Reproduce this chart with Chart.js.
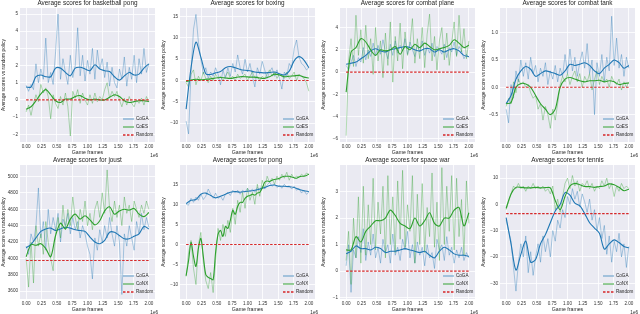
<!DOCTYPE html>
<html>
<head>
<meta charset="utf-8">
<script src="https://cdn.jsdelivr.net/npm/chart.js@4.4.1/dist/chart.umd.min.js"></script>
<style>
  body { margin: 0; background: #fff; width: 640px; height: 314px; overflow: hidden; position: relative; }
  .cell { position: absolute; width: 160px; height: 157px; }
</style>
</head>
<body>
<script>
// game frames axis (x1e6)
const xTicks = [0, 0.25, 0.5, 0.75, 1.0, 1.25, 1.5, 1.75, 2.0];

// basketball pong
const bpBlueRaw = [0.85,0.5,0.9,0.6,2.1,1.0,1.8,1.2,3.6,1.0,1.6,0.9,2.8,5.0,1.2,2.4,1.6,0.9,2.6,1.3,2.0,4.2,1.4,2.6,1.1,2.3,1.5,3.0,1.2,2.9,1.8,2.4,1.3,2.2,0.8,1.9,1.0,0.7,1.8,1.2,2.5,0.8,1.9,1.2,2.6,1.0,2.4,1.5,3.0,1.6,2.1];
const bpBlueSmooth = [0.75,0.75,1.35,1.45,1.35,1.35,1.85,1.85,1.6,1.4,1.85,1.9,1.8,1.7,2.05,1.8,1.7,1.65,1.35,1.15,1.4,1.6,1.45,1.5,1.85,2.1];
const bpGreenRaw = [-0.7,-0.3,-0.9,-0.2,0.3,-0.1,0.9,0.4,0.7,0.2,-1.1,0.3,-0.2,-0.5,0.2,-0.3,0.4,-0.4,-2.1,0.5,0.1,0.6,-0.2,0.4,0.0,-0.3,0.3,-0.2,0.4,-0.1,0.2,0.0,0.6,1.0,0.1,0.5,0.2,0.5,0.0,-0.4,0.1,-0.3,0.2,-0.2,-0.4,0.0,-0.2,0.1,-0.3,0.2,-0.1];
const bpGreenSmooth = [-0.55,-0.4,-0.05,0.35,0.6,0.3,-0.05,-0.15,0.05,0.05,0.2,0.25,0.1,0.0,0.05,0.0,0.0,0.15,0.3,0.2,-0.05,-0.15,-0.1,-0.05,-0.05,-0.1];

// boxing
const bxBlueRaw = [-9.5,-12.5,2,12,15.5,9,5,1.5,3,0.5,2,1,3,1.5,-1,2.5,0.5,3,1,4,2,6,3,1.5,5,2,4,1,-1.5,3,1.5,4.5,2.5,0.5,2,3,1,2.5,0.5,-2,2,1,4,3,7.5,9.5,5.5,4,3.5,2.5,3];
const bxBlueSmooth = [-6.7,3.0,9.0,5.5,1.6,1.4,1.8,2.1,3.0,3.3,3.0,2.6,2.4,2.3,2.0,1.9,1.8,1.9,2.0,1.6,1.3,2.2,4.6,5.6,4.8,3.0];
const bxGreenRaw = [-0.5,-1.5,1.5,2.5,-1,1,0,2,0.5,-0.5,1,0,1.5,0.5,1,0,1,2,0.5,1,0,1.5,0.5,1,1.5,0,1,2,0.5,1,0,1,0.5,1.5,2.5,1,2,0.5,1.5,1,0.5,2,0.5,1,2,0,1.5,1,0.5,-0.5,-2.5];
const bxGreenSmooth = [-0.3,0.1,0.3,0.2,0.3,0.4,0.6,0.7,0.6,0.5,0.7,0.9,0.9,0.8,0.8,0.6,0.5,0.9,1.5,1.3,0.9,1.0,1.1,1.2,0.8,0.6];

// combat plane
const cpBlueRaw = [0.6,0.2,0.9,1.5,0.5,1.3,0.9,2.2,1.1,2.0,1.4,2.6,1.5,2.4,1.6,2.9,1.9,1.2,2.5,1.5,2.8,1.7,2.4,1.9,3.0,1.6,2.7,2.0,1.4,2.4,1.8,2.8,1.5,2.2,1.7,2.6,1.4,2.3,2.0,1.6,2.5,1.3,2.2,1.8,2.7,1.5,2.3,1.9,1.2,1.6,1.3];
const cpBlueSmooth = [0.7,0.8,0.9,1.2,1.5,1.9,2.1,1.9,1.8,2.0,2.1,2.2,2.3,2.2,2.0,1.9,2.1,2.1,1.8,2.0,1.8,2.0,2.1,1.9,1.5,1.4];
const cpGreenRaw = [-5.7,1.0,3.0,0.5,5.1,1.5,3.8,0.8,4.2,1.2,3.0,-0.2,4.0,1.0,2.8,-0.5,3.5,0.6,4.5,-0.9,3.2,1.0,4.4,0.3,3.6,1.5,2.5,4.8,0.8,3.0,1.2,4.0,0.4,3.4,5.2,1.0,3.2,0.2,2.8,4.0,1.1,3.5,0.6,2.6,4.5,1.4,5.1,1.8,3.9,1.2,2.8];
const cpGreenSmooth = [-1.8,1.8,2.2,3.0,2.7,2.0,1.5,2.0,1.9,2.0,2.3,1.6,2.3,2.0,2.5,2.2,2.6,2.3,2.0,2.1,2.2,2.4,2.9,2.6,2.2,2.4];

// combat tank
const ctBlueRaw = [-0.4,-0.65,0.05,-0.2,0.3,0.1,0.5,0.2,0.45,0.15,0.55,0.25,0.4,0.1,0.35,0.2,0.45,0.05,0.3,0.15,0.4,0.1,0.35,0.2,0.6,0.25,0.7,0.3,0.55,0.2,0.45,0.65,0.35,0.8,0.25,0.5,-0.5,0.45,0.2,0.6,0.1,0.55,0.3,1.3,0.4,0.9,0.35,0.6,0.2,0.55,0.35];
const ctBlueSmooth = [-0.3,-0.15,0.15,0.3,0.38,0.33,0.2,0.25,0.3,0.28,0.25,0.22,0.3,0.42,0.4,0.42,0.45,0.4,0.3,0.25,0.35,0.42,0.5,0.45,0.35,0.4];
const ctGreenRaw = [-0.35,-0.2,-0.3,0.1,-0.1,0.15,0.05,0.1,0.0,0.05,-0.1,-0.2,-0.15,-0.4,-0.3,-0.6,-0.35,-0.5,-0.75,-0.4,-0.6,-0.3,0.05,0.2,0.1,0.25,0.05,0.2,0.3,0.1,0.25,0.0,0.2,0.1,0.25,-0.05,0.15,0.3,0.05,0.2,0.1,0.15,0.0,0.2,0.1,0.05,0.15,-0.05,0.1,0.0,0.1];
const ctGreenSmooth = [-0.3,-0.28,0.0,0.07,0.06,0.0,-0.15,-0.3,-0.4,-0.5,-0.4,0.0,0.15,0.18,0.15,0.12,0.1,0.12,0.12,0.13,0.1,0.12,0.1,0.05,0.07,0.08];

// joust
const jsBlueRaw = [4150,4050,4300,4200,4400,4860,4250,4450,4100,4600,4300,4500,4350,4550,4200,4480,4400,4550,4300,4500,4350,4450,4250,4400,4300,4150,4050,3750,4250,4100,4350,4200,4400,4250,4500,4300,4150,4400,4200,3560,4300,4150,4400,4250,4100,4450,4300,4550,4350,4500,4380];
const jsBlueSmooth = [4130,4170,4250,4330,4360,4370,4340,4360,4380,4370,4350,4340,4330,4260,4200,4180,4220,4320,4320,4280,4240,4240,4270,4300,4390,4360];
const jsGreenRaw = [4000,3650,4200,3700,4400,4150,4300,4050,4450,4200,4000,3850,4300,4500,4250,4650,4350,4600,4400,4750,4500,4350,4600,4450,4700,4400,4550,4350,4600,4700,4500,4800,4550,5080,4600,4450,4700,4500,4650,4400,4750,4550,4650,4450,4700,4600,4500,4650,4550,4700,4600];
const jsGreenSmooth = [4020,4170,4160,4180,4120,4020,4280,4430,4360,4480,4540,4480,4520,4470,4410,4460,4580,4630,4540,4580,4600,4590,4610,4540,4510,4560];

// pong
const pgBlueRaw = [10,9.8,11.5,10.5,11.8,11,12.5,11.2,12,13.8,12.5,11.5,12.8,11.5,12,11,12.5,13,12.2,13.5,12.8,13.5,12.5,13.5,13,14,13.2,13.8,13,14.2,13.5,14.5,13.8,14.8,15.5,14.5,15,14.2,14.8,14,15,14.3,14.6,13.8,14.5,13.5,14,12.8,13.5,12.5,13];
const pgBlueSmooth = [10.2,11,11.2,12.5,12.8,12.2,11.6,12,12.5,13,13.2,13.0,13.2,13.3,13.5,13.8,14.2,14.7,14.8,14.5,14.5,14.4,14.2,13.7,13.4,13.2];
const pgGreenRaw = [-8,-2,1,-6,-10,0,3,-4,-9,-11,-7,-12,-4,4,1,5,2,6,3,9,5,11,8,13,9,14,11,13,10,15,12,16,14,17,15.5,16.5,15,17,16,17.5,16.5,18,16,17.5,16.5,17,16.8,17.5,17,17.8,17.5];
const pgGreenSmooth = [-7.8,-4,0.5,-3,-5.5,-1,1.5,-3,-7.5,-8.2,-8.5,-8.8,-2,2.5,3.5,2,4.5,4,6,8.5,7.5,9.5,10.5,10.5,11.5,12,12.2,12.5,12.3,12.8,13,14,15.5,15.8,15.7,16,16.2,16.3,16.5,16.8,17,17,17,16.8,16.6,16.5,16.8,17,17,17.2,17.5];

// space war
const swBlueRaw = [0.2,1.0,-0.8,0.8,0.5,1.3,0.7,1.6,0.4,1.1,0.6,1.4,0.5,0.9,0.3,1.2,0.7,1.0,0.3,1.4,0.6,0.9,0.4,1.2,0.8,1.5,0.5,1.0,0.3,1.1,0.6,0.9,0.2,1.0,0.5,0.7,0.1,1.2,0.8,1.0,0.4,1.3,0.6,0.9,0.3,0.8,0.5,0.9,0.4,0.7,0.5];
const swBlueSmooth = [0.65,0.75,0.95,0.85,0.85,0.8,0.9,0.85,0.7,0.75,0.75,0.8,0.85,0.8,0.75,0.7,0.75,0.6,0.5,0.75,0.9,0.8,0.65,0.6,0.6,0.55];
const swGreenRaw = [0.4,1.5,-0.5,2.0,0.5,2.8,0.3,3.2,0.6,2.5,1.0,3.5,0.8,2.6,1.4,3.2,0.5,3.6,1.0,2.8,0.7,3.4,1.2,3.8,0.9,2.5,1.5,3.6,0.3,2.9,1.0,3.3,0.7,2.4,1.3,3.7,0.9,2.6,0.4,3.9,1.0,3.2,1.5,3.6,0.8,3.5,1.3,2.7,0.6,3.4,1.8];
const swGreenSmooth = [0.8,0.8,1.3,1.1,1.5,1.7,1.9,1.9,2.0,2.3,2.1,1.8,1.7,1.6,2.0,1.7,1.9,2.2,1.8,1.7,2.0,2.0,2.3,2.4,1.7,2.2];

// tennis
const tnBlueRaw = [-6,-10,-14,-24,-33,-22,-15,-20,-12,-26,-18,-27,-20,-15,-22,-12,-18,-13,-20,-10,-14,-6,-9,-2,-5,3,0,6,2,5,-1,4,1,-3,2,-6,-2,-10,-5,-13,-8,-19,-12,-22,-14,-18,-11,-20,-15,-24,-16];
const tnBlueSmooth = [-5,-15,-25,-19,-14,-22,-21,-15,-11.5,-7,-2.5,0,4.5,3.5,0.5,-0.5,-3.5,-7,-9,-11,-17,-15,-13.5,-14.5,-16,-16.5];
const tnGreenRaw = [-2,1,4,7,6,8,6,7,5,7,6,8,6,7,6,7,5,6,4,7,-2,2,-3,3,8,10,6,11,7,9,5,8,7,9,6,8,5,7,6,9,7,10,6,8,3,7,5,8,6,7,6];
const tnGreenSmooth = [-1.5,4,6.5,6.5,6.3,6.3,6.5,6.3,6.4,6.3,1.5,-2,3,7,8,7.5,6.8,6.8,6.5,6.8,7,7.8,7.5,6.5,5.2,5.8];

const titles = ['Average scores for basketball pong', 'Average scores for boxing', 'Average scores for combat plane', 'Average scores for combat tank',
                'Average scores for joust', 'Average scores for pong', 'Average scores for space war', 'Average scores for tennis'];
const yTitles = ['Average scores vs random policy', 'Average score vs random policy', 'Average score vs random policy', 'Average score vs random policy',
                 'Average score vs random policy', 'Average score vs random policy', 'Average score vs random policy', 'Average score vs random policy'];
const secondNames = ['CoES', 'CoES', 'CoES', 'CoES', 'CoNX', 'CoNX', 'CoNX', 'CoNX'];
const randomLevels = [0, 0, 0, 0, 3975, 0, 0, -3.5];
const yTickSets = [
  [-2, -1, 0, 1, 2, 3, 4, 5],
  [-10, -5, 0, 5, 10, 15],
  [-6, -4, -2, 0, 2, 4],
  [-0.5, 0, 0.5, 1.0],
  [3600, 3800, 4000, 4200, 4400, 4600, 4800, 5000],
  [-10, -5, 0, 5, 10, 15],
  [-1, 0, 1, 2, 3],
  [-30, -20, -10, 0, 10]
];
const yRanges = [[-2.45, 5.35], [-14.4, 17.0], [-6.27, 5.75], [-1.0, 1.45], [3505, 5140], [-13.6, 19.8], [-1.05, 4.0], [-36, 15]];
const yDecimals = [0, 0, 0, 1, 0, 0, 0, 0];

const series = [
  [bpBlueRaw, bpBlueSmooth, bpGreenRaw, bpGreenSmooth],
  [bxBlueRaw, bxBlueSmooth, bxGreenRaw, bxGreenSmooth],
  [cpBlueRaw, cpBlueSmooth, cpGreenRaw, cpGreenSmooth],
  [ctBlueRaw, ctBlueSmooth, ctGreenRaw, ctGreenSmooth],
  [jsBlueRaw, jsBlueSmooth, jsGreenRaw, jsGreenSmooth],
  [pgBlueRaw, pgBlueSmooth, pgGreenRaw, pgGreenSmooth],
  [swBlueRaw, swBlueSmooth, swGreenRaw, swGreenSmooth],
  [tnBlueRaw, tnBlueSmooth, tnGreenRaw, tnGreenSmooth]
];

const FONT = '"Liberation Sans", "DejaVu Sans", sans-serif';
Chart.defaults.font.family = FONT;
Chart.defaults.color = '#333';

// spread samples evenly over 0..2 (x1e6 frames)
function toXY(arr) {
  return arr.map((v, i) => ({ x: i * 2 / (arr.length - 1), y: v }));
}
function fmt(v, d) {
  const s = Math.abs(v).toFixed(d);
  return v < 0 ? '\u2212' + s : s;
}

const bgPlugin = {
  id: 'bg',
  beforeDraw(chart) {
    const { ctx, chartArea: a } = chart;
    ctx.save();
    ctx.fillStyle = '#eaeaf2';
    ctx.fillRect(a.left, a.top, a.right - a.left, a.bottom - a.top);
    ctx.restore();
  }
};

const textPlugin = {
  id: 'texts',
  afterDraw(chart, args, opts) {
    const { ctx, chartArea: a } = chart;
    const cx = (a.left + a.right) / 2;
    ctx.save();
    ctx.fillStyle = '#262626';
    ctx.textAlign = 'center';
    ctx.textBaseline = 'middle';
    ctx.font = '6.4px ' + FONT;
    ctx.fillText(opts.title, cx, 3.5);
    ctx.font = '5.2px ' + FONT;
    ctx.fillText('Game frames', cx, a.bottom + 10.8);
    ctx.font = '4.6px ' + FONT;
    ctx.textAlign = 'right';
    ctx.fillText('1e6', 158, a.bottom + 13.5);
    // legend
    const names = ['CoGA', opts.second, 'Random'];
    const cols = ['rgba(31,119,180,0.55)', 'rgba(44,160,44,0.75)', '#d62728'];
    ctx.textAlign = 'left';
    ctx.font = '4.6px ' + FONT;
    names.forEach((n, k) => {
      const y = a.bottom - 23 + k * 8;
      ctx.strokeStyle = cols[k];
      ctx.lineWidth = 1.3;
      ctx.setLineDash(k === 2 ? [2.5, 1.5] : []);
      ctx.beginPath();
      ctx.moveTo(a.right - 32, y);
      ctx.lineTo(a.right - 21, y);
      ctx.stroke();
      ctx.fillStyle = '#262626';
      ctx.fillText(n, a.right - 19, y);
    });
    ctx.setLineDash([]);
    // y title
    ctx.translate(3.5, (a.top + a.bottom) / 2);
    ctx.rotate(-Math.PI / 2);
    ctx.textAlign = 'center';
    ctx.font = '4.9px ' + FONT;
    ctx.fillText(opts.ytitle, 0, 0);
    ctx.restore();
  }
};

for (let i = 0; i < 8; i++) {
  const div = document.createElement('div');
  div.className = 'cell';
  div.style.left = (i % 4) * 160 + 'px';
  div.style.top = Math.floor(i / 4) * 157 + 'px';
  const cv = document.createElement('canvas');
  cv.width = 160; cv.height = 157;
  div.appendChild(cv);
  document.body.appendChild(div);

  const [bRaw, bSm, gRaw, gSm] = series[i];
  const r = randomLevels[i];
  new Chart(cv, {
    type: 'line',
    data: {
      datasets: [
        { data: toXY(bRaw), borderColor: 'rgba(31,119,180,0.4)', borderWidth: 0.9, order: 4 },
        { data: toXY(gRaw), borderColor: 'rgba(44,160,44,0.4)', borderWidth: 0.9, order: 3 },
        { data: toXY(bSm), borderColor: '#1f77b4', borderWidth: 1.1, order: 2, tension: 0.3 },
        { data: toXY(gSm), borderColor: '#2ca02c', borderWidth: 1.1, order: 1, tension: 0.3 },
        { data: toXY([r, r]), borderColor: '#d62728', borderWidth: 1.1, borderDash: [2.5, 1.5], order: 0 }
      ]
    },
    options: {
      responsive: false,
      animation: false,
      events: [],
      layout: { padding: { left: 0, right: 5, top: 8, bottom: 0 } },
      elements: { point: { radius: 0 }, line: { fill: false } },
      plugins: {
        legend: { display: false },
        tooltip: { enabled: false },
        texts: { title: titles[i], ytitle: yTitles[i], second: secondNames[i] }
      },
      scales: {
        x: {
          type: 'linear', min: -0.1, max: 2.1,
          afterBuildTicks: s => { s.ticks = xTicks.map(v => ({ value: v })); },
          afterFit: s => { s.height = 15; },
          ticks: { font: { size: 4.6 }, padding: 2, maxRotation: 0, autoSkip: false, callback: v => v.toFixed(2) },
          grid: { color: '#ffffff', lineWidth: 0.8, drawTicks: false },
          border: { display: false }
        },
        y: {
          type: 'linear', min: yRanges[i][0], max: yRanges[i][1],
          afterBuildTicks: s => { s.ticks = yTickSets[i].map(v => ({ value: v })); },
          afterFit: s => { s.width = 20; },
          ticks: { font: { size: 4.6 }, padding: 2, autoSkip: false, callback: v => fmt(v, yDecimals[i]) },
          grid: { color: '#ffffff', lineWidth: 0.8, drawTicks: false },
          border: { display: false }
        }
      }
    },
    plugins: [bgPlugin, textPlugin]
  });
}
</script>
</body>
</html>
